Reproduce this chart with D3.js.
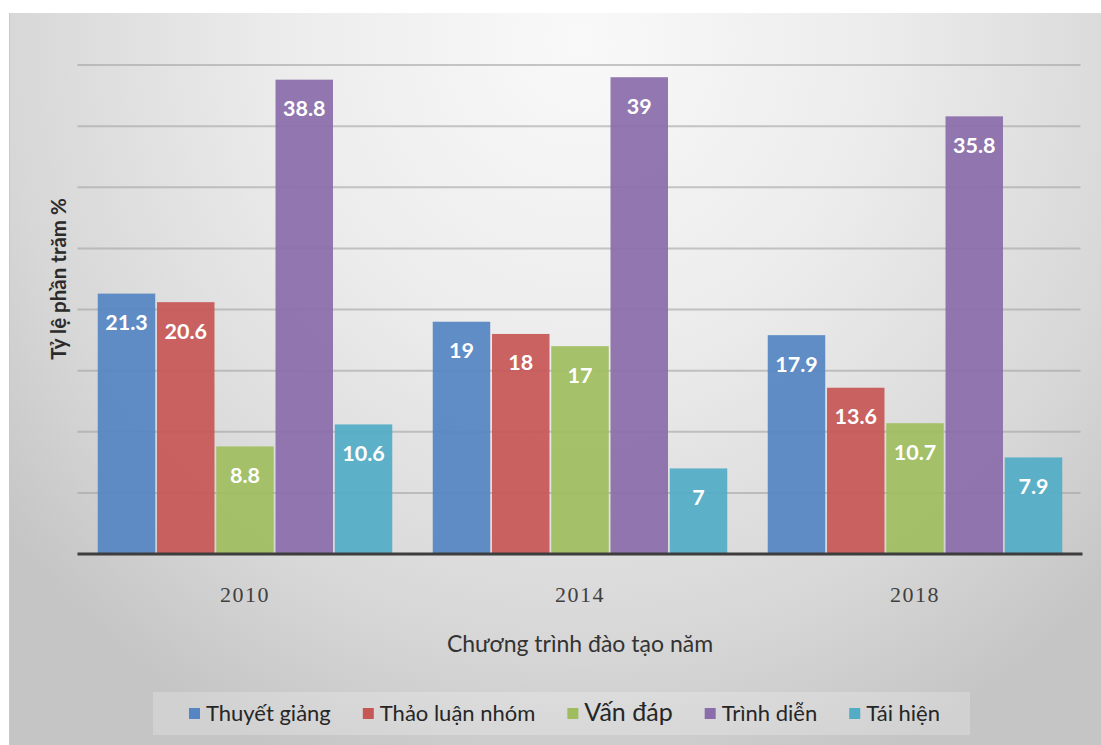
<!DOCTYPE html>
<html>
<head>
<meta charset="utf-8">
<script src="https://cdn.jsdelivr.net/npm/d3@7"></script>
<style>
  html, body { margin: 0; padding: 0; background: #ffffff; }
  svg { display: block; }
</style>
</head>
<body>
<svg id="chart" width="1101" height="745"></svg>
<script>
// Teaching methods by training programme year (percent)
const years = ["2010", "2014", "2018"];
const methods = ["Thuyết giảng", "Thảo luận nhóm", "Vấn đáp", "Trình diễn", "Tái hiện"];
const thuyetGiang = [21.3, 19, 17.9];
const thaoLuanNhom = [20.6, 18, 13.6];
const vanDap = [8.8, 17, 10.7];
const trinhDien = [38.8, 39, 35.8];
const taiHien = [10.6, 7, 7.9];
const yTicks = [0, 5, 10, 15, 20, 25, 30, 35, 40];
const colors = ["#5585c2", "#c65755", "#9fbd5f", "#8a6daa", "#52acc6"];

const seriesValues = [thuyetGiang, thaoLuanNhom, vanDap, trinhDien, taiHien];
const rows = years.map((yr, i) => ({
  year: yr,
  values: methods.map((m, j) => ({ method: m, value: seriesValues[j][i] }))
}));

const svg = d3.select("#chart");
const W = 1101, H = 745;

// Background panel with soft radial shading
const defs = svg.append("defs");
const grad = defs.append("radialGradient")
  .attr("id", "bg")
  .attr("gradientUnits", "userSpaceOnUse")
  .attr("cx", 580).attr("cy", 40).attr("r", 740)
  .attr("gradientTransform", "translate(580,40) scale(1,1.05) translate(-580,-40)");
grad.append("stop").attr("offset", 0).attr("stop-color", "#f9f9f9");
grad.append("stop").attr("offset", 0.4).attr("stop-color", "#ececec");
grad.append("stop").attr("offset", 0.78).attr("stop-color", "#d7d7d7");
grad.append("stop").attr("offset", 1).attr("stop-color", "#c5c5c5");

svg.append("rect").attr("x", 0).attr("y", 0).attr("width", W).attr("height", H).attr("fill", "#ffffff");
svg.append("rect").attr("x", 9).attr("y", 13).attr("width", W - 9).attr("height", H - 13).attr("fill", "url(#bg)");
svg.append("line").attr("x1", 9.5).attr("x2", 9.5).attr("y1", 13).attr("y2", H)
  .attr("stroke", "#c9c9c9").attr("stroke-width", 1);

// Scales
const plotLeft = 77.5, plotRight = 1082.5;
const y = d3.scaleLinear().domain([0, 40]).range([554, 65]);
const x0 = d3.scaleBand().domain(years).range([plotLeft, plotRight]).padding(0);
const groupInset = 20.25;
const x1 = d3.scaleBand().domain(methods)
  .range([groupInset, x0.bandwidth() - groupInset])
  .paddingInner(0.03).paddingOuter(0);
const color = d3.scaleOrdinal().domain(methods).range(colors);

// Horizontal gridlines
const grid = svg.append("g").attr("class", "grid");
grid.selectAll("line")
  .data(yTicks.filter(t => t > 0))
  .join("line")
  .attr("x1", plotLeft).attr("x2", plotRight - 2)
  .attr("y1", d => y(d)).attr("y2", d => y(d))
  .attr("stroke", "#a3a3a3").attr("stroke-opacity", 0.6).attr("stroke-width", 2);

// Bars
const groups = svg.append("g").selectAll("g")
  .data(rows)
  .join("g")
  .attr("transform", d => `translate(${x0(d.year)},0)`);

groups.selectAll("rect")
  .data(d => d.values)
  .join("rect")
  .attr("x", d => x1(d.method))
  .attr("width", x1.bandwidth())
  .attr("y", d => y(d.value))
  .attr("height", d => y(0) - y(d.value))
  .attr("fill", d => color(d.method))
  .attr("fill-opacity", 0.93);

// Value labels inside the top of each bar
groups.selectAll("text")
  .data(d => d.values)
  .join("text")
  .attr("x", d => x1(d.method) + x1.bandwidth() / 2)
  .attr("y", d => y(d.value) + 36.5)
  .attr("text-anchor", "middle")
  .attr("font-family", "Lato, 'Open Sans', sans-serif")
  .attr("font-weight", 700)
  .attr("font-size", 21.5)
  .attr("fill", "#ffffff")
  .text(d => d.value);

// Baseline
svg.append("line")
  .attr("x1", plotLeft).attr("x2", plotRight)
  .attr("y1", y(0)).attr("y2", y(0))
  .attr("stroke", "#3d3d3d").attr("stroke-width", 3);

// Category axis
const xAxis = d3.axisBottom(x0).tickSize(0).tickPadding(0);
const xg = svg.append("g").attr("transform", `translate(0,${y(0)})`).call(xAxis);
xg.select(".domain").remove();
xg.selectAll("text")
  .attr("y", 47.5)
  .attr("dy", 0)
  .attr("font-family", "'Liberation Serif', 'DejaVu Serif', serif")
  .attr("font-size", 22)
  .attr("letter-spacing", 1.5)
  .attr("fill", "#404040");

// Axis titles
svg.append("text")
  .attr("x", 580).attr("y", 651.5)
  .attr("text-anchor", "middle")
  .attr("font-family", "Lato, sans-serif")
  .attr("font-size", 23)
  .attr("fill", "#333333")
  .text("Chương trình đào tạo năm");

svg.append("text")
  .attr("transform", "translate(66,279) rotate(-90)")
  .attr("text-anchor", "middle")
  .attr("font-family", "Lato, sans-serif")
  .attr("font-weight", 700)
  .attr("font-size", 20.5)
  .attr("fill", "#2b2b2b")
  .text("Tỷ lệ phần trăm %");

// Legend
const legendBox = { x: 153, y: 692, w: 817, h: 43 };
svg.append("rect")
  .attr("x", legendBox.x).attr("y", legendBox.y)
  .attr("width", legendBox.w).attr("height", legendBox.h)
  .attr("fill", "#ffffff").attr("fill-opacity", 0.22);

const legend = svg.append("g");
const items = legend.selectAll("g")
  .data(methods)
  .join("g");
items.append("rect")
  .attr("width", 11).attr("height", 11)
  .attr("y", -13)
  .attr("fill", d => color(d));
items.append("text")
  .attr("x", 17)
  .attr("y", 0)
  .attr("font-family", "Lato, sans-serif")
  .attr("font-size", d => d === "Vấn đáp" ? 25 : 22)
  .attr("fill", "#262626")
  .text(d => d);

// Flow legend items left to right, centred in the box
let cursor = 0;
const offsets = [];
items.each(function () {
  offsets.push(cursor);
  const w = d3.select(this).select("text").node().getComputedTextLength();
  cursor += 17 + w + 32;
});
const total = cursor - 32;
const startX = legendBox.x + legendBox.w / 2 - total / 2 + 3;
items.attr("transform", (d, i) => `translate(${startX + offsets[i]},${721})`);
</script>
</body>
</html>
